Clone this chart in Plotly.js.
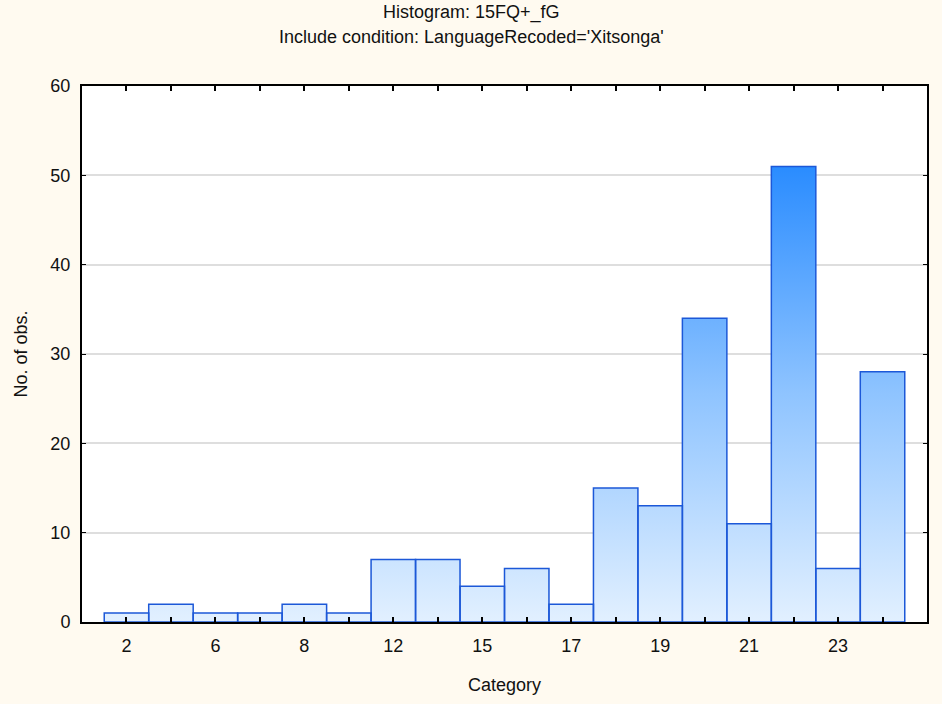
<!DOCTYPE html>
<html>
<head>
<meta charset="utf-8">
<script src="https://cdn.plot.ly/plotly-3.0.1.min.js"></script>
<style>html,body{margin:0;padding:0;background:#fffaf0;}#chart{width:942px;height:704px;}</style>
</head>
<body>
<div id="chart"></div>
<script>
// Data
const barIndex = [0,1,2,3,4,5,6,7,8,9,10,11,12,13,14,15,16,17];
const counts   = [1,2,1,1,2,1,7,7,4,6,2,15,13,34,11,51,6,28];
const tickLabels = ['2','','6','','8','','12','','15','','17','','19','','21','','23',''];
const titleText = 'Histogram: 15FQ+_fG';
const subtitleText = "Include condition: LanguageRecoded='Xitsonga'";
const xTitle = 'Category';
const yTitle = 'No. of obs.';
const maxCount = Math.max(...counts);

const traces = [];
barIndex.forEach((xi, k) => {
  const v = counts[k];
  traces.push({
    type: 'scatter', mode: 'none', hoverinfo: 'skip', showlegend: false,
    x: [xi - 0.5, xi - 0.5, xi + 0.5, xi + 0.5, xi - 0.5],
    y: [0, v, v, 0, 0],
    fill: 'toself',
    fillgradient: {type: 'vertical', start: 0, stop: maxCount,
      colorscale: [[0, '#e2f0ff'], [0.5, '#8fc4ff'], [1, '#2a8cff']]}
  });
});
// outlines on an overlay subplot so they sit above the gradient fills
traces.push({
  type: 'bar', x: barIndex, y: counts, width: 1, showlegend: false,
  xaxis: 'x2', yaxis: 'y2',
  marker: {color: 'rgba(0,0,0,0)', line: {color: '#1c58d8', width: 1.5}},
  hoverinfo: 'skip'
});

const font = {family: 'Liberation Sans, Arial, sans-serif', size: 18, color: '#111'};
const layout = {
  width: 942, height: 704,
  paper_bgcolor: '#fffaf0', plot_bgcolor: '#ffffff',
  margin: {l: 82, r: 15, t: 86, b: 82},
  font: font,
  showlegend: false,
  xaxis: {
    range: [-1, 18], tickmode: 'array', tickvals: barIndex, ticktext: tickLabels,
    ticks: 'inside', ticklen: 5, tickwidth: 2, tickcolor: '#000',
    showline: true, linecolor: '#000', linewidth: 2, mirror: 'ticks',
    showgrid: false, zeroline: false, tickfont: font, ticklabelstandoff: 6,
    title: {text: xTitle, font: font, standoff: 24}
  },
  yaxis: {
    range: [0, 60], dtick: 10,
    ticks: 'inside', ticklen: 4, tickwidth: 1, tickcolor: '#000',
    showline: true, linecolor: '#000', linewidth: 2, mirror: 'ticks',
    showgrid: true, gridcolor: '#dedede', gridwidth: 2, zeroline: false,
    tickfont: font, ticklabelstandoff: 6,
    title: {text: yTitle, font: font, standoff: 18}
  },
  xaxis2: {overlaying: 'x', range: [-1, 18], visible: false, showgrid: false, zeroline: false},
  yaxis2: {overlaying: 'y', range: [0, 60], visible: false, showgrid: false, zeroline: false},
  annotations: [
    {text: titleText, xref: 'paper', yref: 'paper', x: (471 - 82) / 845, y: 1, yshift: 74, showarrow: false, font: font, xanchor: 'center', yanchor: 'middle'},
    {text: subtitleText, xref: 'paper', yref: 'paper', x: (471 - 82) / 845, y: 1, yshift: 49, showarrow: false, font: font, xanchor: 'center', yanchor: 'middle'}
  ]
};

Plotly.newPlot('chart', traces, layout, {displayModeBar: false, staticPlot: true});
</script>
</body>
</html>
